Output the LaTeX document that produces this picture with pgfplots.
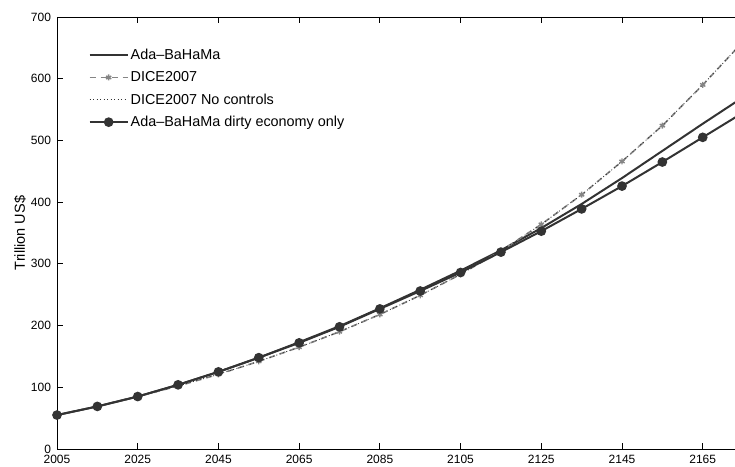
\documentclass[border=0pt]{standalone}
\usepackage{pgfplots}
\pgfplotsset{compat=1.18}
\usepackage{fontspec}
\setmainfont{Liberation Sans}
\definecolor{dk}{HTML}{333333}
\definecolor{gr}{HTML}{858585}
\begin{document}
\begin{tikzpicture}
\begin{axis}[
  scale only axis, width=678pt, height=432pt,
  xmin=2005, xmax=2173, ymin=0, ymax=700,
  xtick={2005,2025,...,2165}, ytick={0,100,...,700},
  axis y line*=left, y axis line style={-},
  axis line style={line width=0.8pt},
  tick align=inside, major tick length=6pt,
  tick style={black, line width=0.8pt},
  /pgf/number format/assume math mode=true,
  /pgf/number format/set thousands separator={},
  tick label style={font=\fontsize{12}{14}\selectfont},
  xticklabel style={yshift=-2.5pt},
  yticklabel style={xshift=-2.5pt},
  ylabel={Trillion US\$},
  ylabel style={font=\fontsize{14.5}{16}\selectfont, at={(axis description cs:-0.0546,0.5)}, anchor=center},
  legend style={draw=none, fill=none, at={(0.042,0.935)}, anchor=north west,
    font=\fontsize{14.4}{16}\selectfont, row sep=6.5pt},
  legend cell align=left,
  legend image code/.code={\draw[mark repeat=2,mark phase=2,#1] plot coordinates {(0pt,0pt) (19pt,0pt) (38pt,0pt)};},
]
\addplot[dk, line width=2pt] coordinates {
(2005,55) (2015,69) (2025,85) (2035,104) (2045,125) (2055,148) (2065,173) (2075,199) (2085,228) (2095,258) (2105,289) (2115,322) (2125,358) (2135,397) (2145,439) (2155,483) (2165,527) (2175,570)};
\addlegendentry{Ada\textendash BaHaMa}
\addplot[gr, line width=1.6pt, dash pattern=on 6pt off 5pt, mark=asterisk, mark size=3pt, mark options={solid, line width=1.4pt}] coordinates {
(2005,55) (2015,69) (2025,85) (2035,102) (2045,121) (2055,142) (2065,165) (2075,190) (2085,218) (2095,249) (2105,283) (2115,321) (2125,364) (2135,412) (2145,466) (2155,524) (2165,590) (2175,660)};
\addlegendentry{DICE2007}
\addplot[dk, line width=0.8pt, dash pattern=on 1pt off 2.5pt] coordinates {
(2005,55) (2015,69) (2025,85) (2035,102) (2045,121) (2055,142) (2065,165) (2075,190) (2085,218) (2095,249) (2105,283) (2115,321) (2125,364) (2135,412) (2145,466) (2155,524) (2165,590) (2175,660)};
\addlegendentry{DICE2007 No controls}
\addplot[dk, line width=2pt, mark=*, mark size=3.8pt] coordinates {
(2005,55) (2015,69) (2025,85) (2035,104) (2045,125) (2055,148) (2065,172) (2075,198) (2085,227) (2095,256) (2105,286) (2115,319) (2125,353) (2135,389) (2145,426) (2155,465) (2165,505) (2175,545)};
\addlegendentry{Ada\textendash BaHaMa dirty economy only}
\end{axis}
\pgfresetboundingbox
\path[use as bounding box] ([shift={(-57pt,-18pt)}]current axis.south west) rectangle ([shift={(0pt,17pt)}]current axis.north east);
\end{tikzpicture}
\end{document}
